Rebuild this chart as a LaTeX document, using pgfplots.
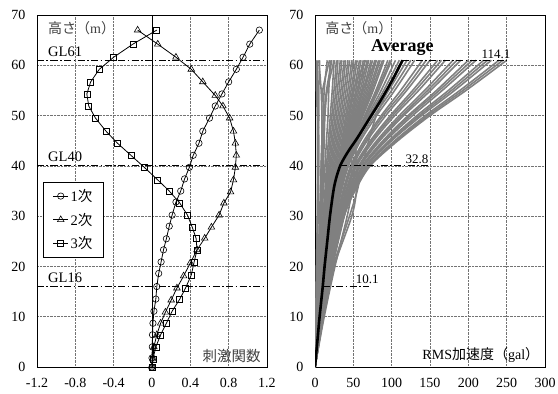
\documentclass[border=0pt]{standalone}
\usepackage{pgfplots}
\pgfplotsset{compat=1.18}
\usepackage{fontspec}
\setmainfont{Liberation Serif}
\newfontfamily\jp{Noto Sans CJK JP}
\definecolor{cgray}{RGB}{128,128,128}
\newcommand\rc[9]{\addplot[cgray, line width=1.6pt, smooth] coordinates {(0,0)(#1,10)(#2,20)(#3,30)(#4,35)(#5,40)(#6,45)(#7,50)(#8,55)(#9,61)};}
\begin{document}
\begin{tikzpicture}
\useasboundingbox (-37pt,-27pt) rectangle (521pt,367pt);
\pgfplotsset{
 base/.style={scale only axis, width=230pt, height=352pt, ymin=0, ymax=70, ytick={0,10,...,70},
  grid=major, major grid style={densely dotted, black!55, line width=0.5pt},
  axis line style={black, line width=0.9pt}, major tick length=0pt,
  tick label style={font=\fontsize{14}{16}\selectfont},
  yticklabel style={xshift=-8pt}, xticklabel style={yshift=-8pt},
  /pgf/number format/assume math mode=true},
 dd/.style={black, line width=1.1pt, dash pattern=on 7pt off 2.5pt on 1.5pt off 2.5pt},
 mode/.style={black, line width=0.8pt, mark options={solid, fill=white, line width=0.6pt}},
}
\begin{axis}[base, at={(0,0)}, anchor=south west,
  xmin=-1.2, xmax=1.2, xtick={-1.2,-0.8,-0.4,0,0.4,0.8,1.2},
  xticklabels={-1.2,-0.8,-0.4,0,0.4,0.8,1.2},
  legend style={at={(0.028,0.526)}, anchor=north west, draw=black, line width=0.8pt,
    font=\fontsize{14.5}{16}\selectfont, row sep=6pt, inner xsep=9pt, inner ysep=5pt, cells={anchor=west}},
  legend image code/.code={\draw[mark repeat=2, mark phase=2, #1] plot coordinates {(0pt,0pt)(7.5pt,0pt)(15pt,0pt)};}]
\addplot[dd, forget plot] coordinates {(-1.2,61)(1.2,61)};
\addplot[dd, forget plot] coordinates {(-1.2,40)(1.2,40)};
\addplot[dd, forget plot] coordinates {(-1.2,16)(1.2,16)};
\addplot[black, line width=0.8pt, forget plot] coordinates {(0,0)(0,70)};
\addplot[mode, mark=o, mark size=3.2pt] coordinates {
(0,0)(0,1.8)(0.003,4.0)(0.005,6.4)(0.01,8.7)(0.02,11.1)(0.04,13.5)(0.05,16.0)(0.07,18.6)(0.095,20.9)(0.12,23.3)(0.15,25.5)(0.18,28.0)(0.21,30.2)(0.25,32.8)(0.30,35.0)(0.34,37.4)(0.39,39.7)(0.43,42.1)(0.49,44.5)(0.53,46.9)(0.60,49.5)(0.66,51.9)(0.73,54.3)(0.80,56.7)(0.88,59.2)(0.95,61.6)(1.02,64.2)(1.12,67.0)};
\addlegendentry{1{\jp 次}\hspace{7pt}}
\addplot[mode, mark=triangle, mark size=3.8pt] coordinates {
(0,0)(0.01,1.6)(0.02,4.0)(0.05,6.4)(0.09,8.7)(0.14,10.9)(0.20,13.3)(0.26,15.7)(0.33,18.1)(0.40,20.7)(0.47,23.3)(0.55,25.6)(0.62,27.8)(0.70,30.2)(0.75,32.6)(0.82,34.8)(0.85,37.2)(0.87,39.7)(0.88,42.1)(0.87,44.5)(0.85,46.9)(0.81,49.5)(0.74,51.9)(0.66,54.0)(0.53,56.7)(0.41,59.2)(0.25,61.6)(0.06,64.2)(-0.15,67.0)};
\addlegendentry{2{\jp 次}\hspace{7pt}}
\addplot[mode, mark=square, mark size=3.0pt] coordinates {
(0,0)(0.01,1.6)(0.04,4.0)(0.09,6.4)(0.15,8.7)(0.21,11.1)(0.29,13.5)(0.35,15.7)(0.41,18.3)(0.44,20.9)(0.47,23.3)(0.46,25.6)(0.42,27.8)(0.37,30.2)(0.29,32.6)(0.18,35.0)(0.06,37.2)(-0.08,39.7)(-0.22,42.1)(-0.36,44.5)(-0.48,46.9)(-0.59,49.5)(-0.66,51.9)(-0.68,54.3)(-0.64,56.7)(-0.55,59.2)(-0.40,61.6)(-0.20,64.2)(0.05,67.0)};
\addlegendentry{3{\jp 次}\hspace{7pt}}
\node[anchor=west, font=\fontsize{14}{16}\selectfont, text=black!75] at (axis cs:-1.12,67.4) {{\jp 高さ（}m{\jp ）}};
\node[anchor=base west, font=\fontsize{14.5}{16}\selectfont] at (axis cs:-1.12,61.8) {GL61};
\node[anchor=base west, font=\fontsize{14.5}{16}\selectfont] at (axis cs:-1.12,40.8) {GL40};
\node[anchor=base west, font=\fontsize{14.5}{16}\selectfont] at (axis cs:-1.12,16.8) {GL16};
\node[anchor=south east, font=\fontsize{14.5}{16}\selectfont\jp, text=black!75] at (axis cs:1.17,0.1) {刺激関数};
\end{axis}
\begin{axis}[base, at={(278pt,0)}, anchor=south west,
  xmin=0, xmax=300, xtick={0,50,...,300}]
\rc{1}{2}{3}{3.5}{4}{4}{5}{5}{6}
\rc{1}{2}{3}{3}{3}{3}{3}{2}{2}
\rc{2}{3}{4}{4.5}{5}{5}{4}{3}{3}
\rc{2}{4}{6}{7}{8}{9}{9}{8}{5}
\rc{3}{5}{7}{8}{9}{10}{11}{12}{16}
\rc{3}{5}{7}{7.5}{8}{9}{9}{10}{19}
\rc{4}{7}{9}{10}{11}{12}{13}{16}{25}
\rc{3}{6}{8}{9}{10}{11}{12}{15}{22}
\rc{10}{22}{38}{52}{72}{108}{150}{197}{250}
\rc{10}{22}{38}{51.5}{71}{106}{147}{193}{245}
\rc{10.1}{22}{37.7}{51}{70}{104}{144}{189}{240}
\rc{10.2}{21.8}{37.3}{50}{68}{100}{139}{182}{230}
\rc{10}{22}{37}{49.5}{67}{98}{136}{178}{225}
\rc{10.2}{21.6}{36.7}{48.9}{66}{96.5}{133}{174}{220}
\rc{10.1}{21.4}{36.1}{47.7}{63.8}{92.5}{127.3}{166}{210}
\rc{10}{21}{36}{47}{63}{90.5}{124}{162}{205}
\rc{10.1}{21.1}{35.4}{46.4}{61.6}{88.6}{121.5}{158.5}{200}
\rc{10}{20.7}{34.6}{45}{59.3}{84.5}{115.7}{150.8}{190}
\rc{10}{20.5}{34}{44}{58}{82.5}{113}{147}{185}
\rc{9.8}{20.2}{33.6}{43.4}{56.9}{80.5}{110}{143}{180}
\rc{9.6}{19.7}{32.6}{41.8}{54.4}{76.3}{104}{135.2}{170}
\rc{9.5}{19.4}{32}{41}{53}{74}{101}{131}{165}
\rc{9.4}{19}{31.5}{40.1}{51.8}{72.2}{98.2}{127.4}{160}
\rc{9.1}{18.4}{30.3}{38.4}{49.2}{68}{92.3}{119.6}{150}
\rc{9}{18}{29.7}{37.5}{48}{66}{89}{116}{145}
\rc{8.8}{17.6}{29}{36.5}{46.5}{63.8}{86.4}{111.7}{140}
\rc{8.4}{17}{27.6}{34.5}{43.7}{59.5}{80.4}{103.9}{130}
\rc{8.2}{16.5}{26.8}{33.5}{42.3}{57.4}{77.4}{100}{125}
\rc{8}{16}{26}{32.4}{40.8}{55.2}{74.4}{96}{120}
\rc{8.1}{16.2}{26.4}{32.9}{41.2}{54.8}{72.7}{92.8}{115}
\rc{8.2}{16.3}{26.7}{33.3}{41.5}{54.4}{71}{89.6}{110}
\rc{8.2}{16.4}{26.8}{33.5}{41.5}{53.7}{69}{86.3}{105}
\rc{8.2}{16.4}{26.9}{33.6}{41.4}{52.9}{67.1}{82.9}{100}
\rc{8.2}{16.3}{26.8}{33.5}{41.2}{52.4}{66}{81}{98}
\rc{8.2}{16.3}{26.8}{33.4}{41}{51.8}{64.9}{79.4}{95}
\rc{8.1}{16.1}{26.6}{33.2}{40.6}{50.7}{62.7}{75.9}{90}
\rc{8}{16}{26.4}{33}{40.2}{50}{61.5}{74}{88}
\rc{8}{15.8}{26.2}{32.7}{39.9}{49.3}{60.3}{72.3}{85}
\rc{7.9}{15.7}{26}{32.4}{39.5}{48.5}{59}{70.5}{83}
\rc{7.8}{15.5}{25.7}{32.1}{39.1}{47.8}{57.8}{68.6}{80}
\rc{7.7}{15.3}{25.4}{31.7}{38.5}{46.9}{56.5}{66.7}{78}
\rc{7.6}{15.1}{25}{31.3}{38}{46}{55.1}{64.8}{75}
\rc{7.5}{14.9}{24.6}{30.8}{37.4}{45.1}{53.7}{62.9}{73}
\rc{7.3}{14.7}{24.3}{30.4}{36.8}{44.2}{52.4}{61}{70}
\rc{7.2}{14.4}{23.9}{29.8}{36}{43.1}{51}{59}{68}
\rc{7}{14.1}{23.4}{29.2}{35.3}{42}{49.5}{57}{65}
\rc{6.9}{13.8}{22.9}{28.6}{34.5}{40.9}{48}{55}{63}
\rc{6.7}{13.5}{22.4}{28}{33.8}{39.9}{46.5}{53.1}{60}
\rc{6.6}{13.2}{21.8}{27.2}{32.8}{38.7}{44.9}{51}{58}
\rc{6.4}{12.8}{21.2}{26.5}{31.9}{37.5}{43.3}{49}{55}
\rc{6.2}{12.4}{20.6}{25.8}{31}{36.2}{41.6}{47}{53}
\rc{6}{12}{20}{25}{30}{35}{40}{45}{50}
\rc{5.8}{11.5}{19}{23.8}{28.5}{33.2}{38}{42.8}{48}
\rc{5.5}{11}{18}{22.5}{27}{31.5}{36}{40.5}{45}
\rc{5.2}{10.5}{17}{21.2}{25.5}{29.8}{34}{38.2}{43}
\rc{5}{10}{16}{20}{24}{28}{32}{36}{40}
\rc{4.8}{9.5}{15}{18.8}{22.5}{26.2}{30}{33.8}{38}
\rc{4.5}{9}{14}{17.5}{21}{24.5}{28}{31.5}{35}
\rc{4.2}{8.5}{13}{16.2}{19.5}{22.8}{26}{29.2}{33}
\rc{4}{8}{12}{15}{18}{21}{24}{27}{30}
\rc{3.8}{7.5}{11.2}{14}{16.5}{19.2}{22}{24.8}{28}
\rc{3.5}{7}{10.5}{13}{15}{17.5}{20}{22.5}{25}
\rc{3}{6}{9}{11}{13}{15}{17}{18}{20}
\rc{10}{24}{45}{55}{62}{70}{80}{95}{115}
\rc{11}{25}{48}{54}{55}{52}{50}{55}{70}
\rc{12}{26}{42}{48}{52}{54}{56}{62}{80}
\rc{11}{23}{38}{45}{48}{46}{45}{50}{66}
\addplot[black, line width=2.6pt, smooth] coordinates {
(0,0)(3,5)(6,10)(10.1,16)(12.5,20)(16,25)(19.5,30)(24,35)(27.5,37.5)(32.8,40)(39,41.8)(46,43.5)(55,45.5)(70.5,49.3)(86,53.1)(101,57.1)(114.1,61)};
\addplot[dd] coordinates {(114.1,61)(250,61)};
\addplot[dd] coordinates {(32.8,40)(150,40)};
\addplot[dd] coordinates {(10.1,16)(70,16)};
\node[anchor=west, font=\fontsize{14}{16}\selectfont, text=black!75] at (axis cs:9,67.4) {{\jp 高さ（}m{\jp ）}};
\node[font=\fontsize{18}{20}\selectfont\bfseries] at (axis cs:114,63.6) {Average};
\node[anchor=south, font=\fontsize{13}{15}\selectfont] at (axis cs:236,60.6) {114.1};
\node[anchor=south, font=\fontsize{13}{15}\selectfont] at (axis cs:133,39.8) {32.8};
\node[anchor=south, font=\fontsize{13}{15}\selectfont] at (axis cs:68,15.8) {10.1};
\node[anchor=south east, font=\fontsize{14}{16}\selectfont] at (axis cs:297,0.1) {RMS{\jp 加速度（}gal{\jp ）}};
\end{axis}
\end{tikzpicture}
\end{document}
